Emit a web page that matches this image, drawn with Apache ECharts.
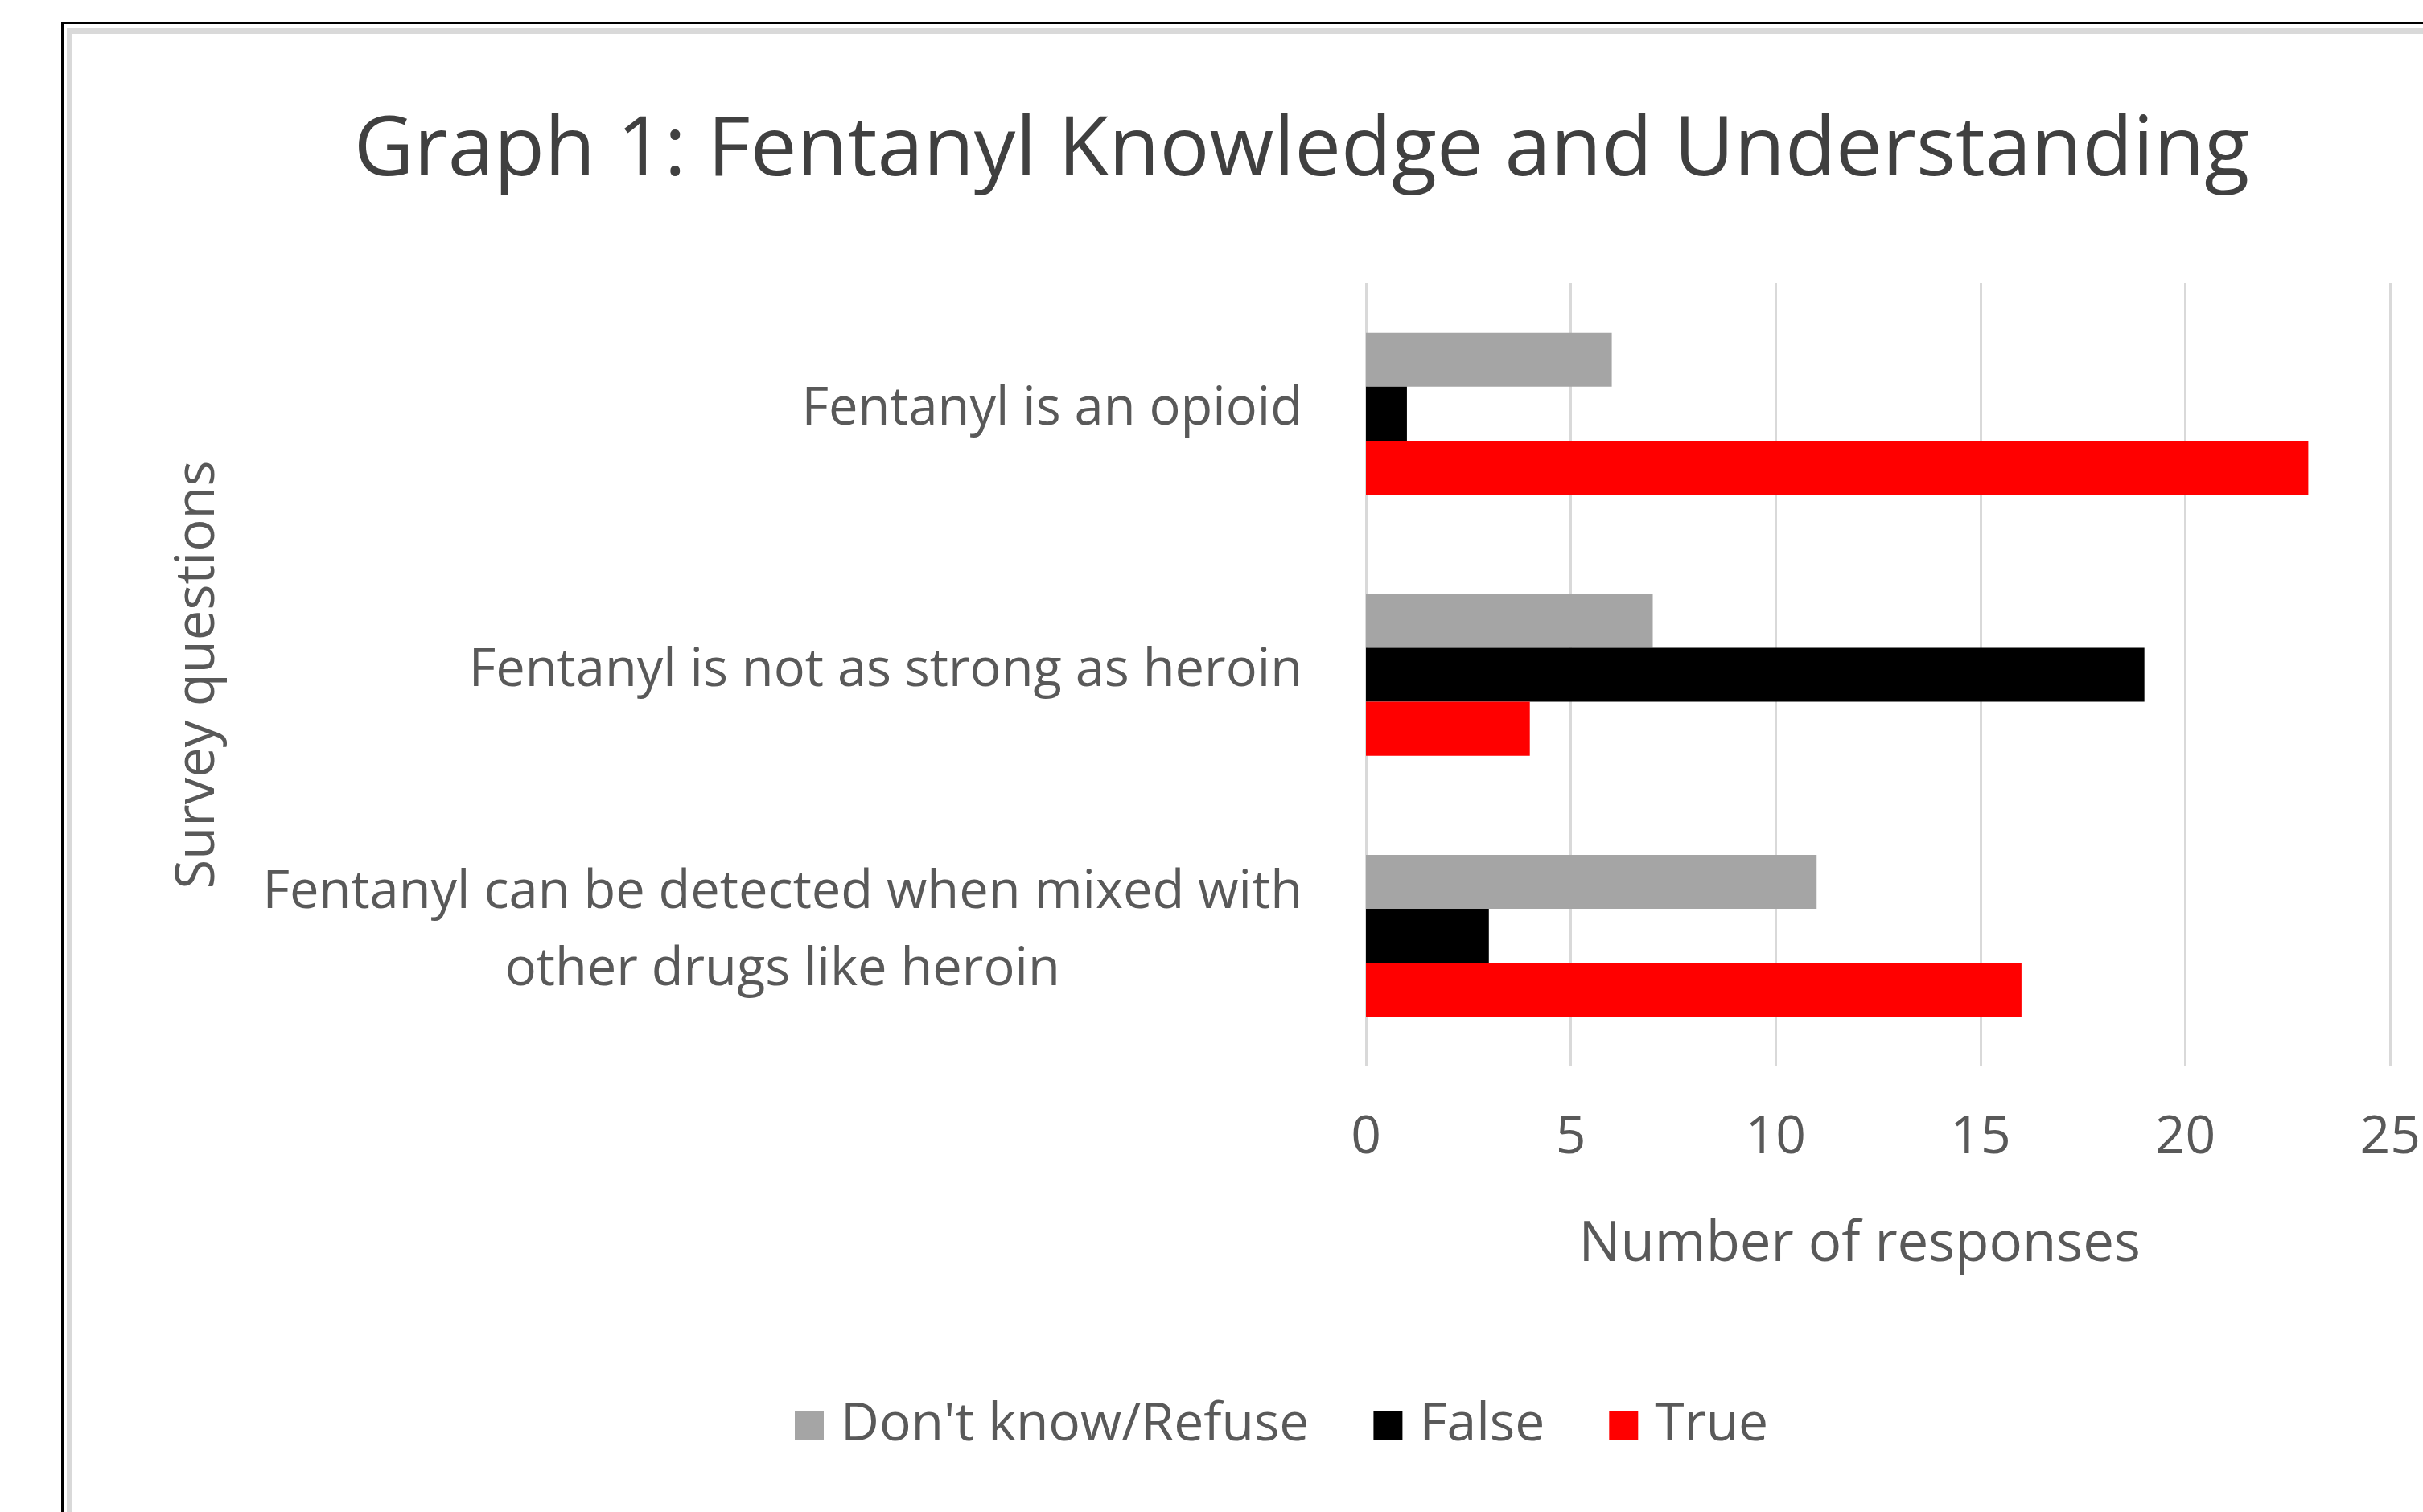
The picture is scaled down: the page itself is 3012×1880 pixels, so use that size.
<!DOCTYPE html>
<html>
<head>
<meta charset="utf-8">
<script src="https://cdn.jsdelivr.net/npm/echarts@6/dist/echarts.min.js"></script>
<style>
  html, body { margin: 0; padding: 0; background: #fff; }
  #chart { width: 3012px; height: 1880px; }
</style>
</head>
<body>
<div id="chart"></div>
<script>
  // Données du graphique
  const questions = [
    'Fentanyl is an opioid',
    'Fentanyl is not as strong as heroin',
    'Fentanyl can be detected when mixed with\nother drugs like heroin'
  ];
  const seriesNames = ["Don't know/Refuse", 'False', 'True'];
  const dontKnow = [6, 7, 11];
  const falseVals = [1, 19, 3];
  const trueVals = [23, 4, 16];
  const xTicks = [0, 5, 10, 15, 20, 25];

  const chart = echarts.init(document.getElementById('chart'));
  const fonte = '"Open Sans", "Noto Sans", sans-serif';
  const cinza = '#595959';

  const barra = (nome, valores, cor) => ({
    name: nome,
    type: 'bar',
    data: valores,
    barGap: '0%',
    barCategoryGap: '38%',
    itemStyle: { color: cor }
  });

  chart.setOption({
    backgroundColor: '#ffffff',
    animation: false,
    title: {
      text: 'Graph 1: Fentanyl Knowledge and Understanding',
      left: 1613,
      top: 132,
      textAlign: 'center',
      textStyle: { fontFamily: fonte, fontSize: 103, fontWeight: 'normal', color: '#404040' }
    },
    legend: {
      data: seriesNames,
      left: 983,
      top: 1734,
      itemWidth: 36,
      itemHeight: 36,
      itemGap: 80,
      icon: 'rect',
      textStyle: { fontFamily: fonte, fontSize: 66, color: cinza, padding: [0, 0, 0, 16] }
    },
    grid: { left: 1698, right: 34, top: 352, bottom: 554, containLabel: false },
    xAxis: {
      type: 'value',
      min: xTicks[0],
      max: xTicks[xTicks.length - 1],
      interval: 5,
      name: 'Number of responses',
      nameLocation: 'middle',
      nameGap: 188,
      nameTextStyle: { fontFamily: fonte, fontSize: 69, color: cinza, padding: [0, 46, 0, 0] },
      axisLine: { show: false },
      axisTick: { show: false },
      axisLabel: { fontFamily: fonte, fontSize: 66, color: cinza, margin: 56 },
      splitLine: { lineStyle: { color: '#d9d9d9', width: 3 } }
    },
    yAxis: {
      type: 'category',
      data: questions,
      inverse: true,
      name: 'Survey questions',
      nameLocation: 'middle',
      nameGap: 1418,
      nameTextStyle: { fontFamily: fonte, fontSize: 67, color: cinza },
      axisLine: { show: false },
      axisTick: { show: false },
      axisLabel: {
        margin: 79,
        align: 'right',
        padding: [0, 0, 10, 0],
        formatter: v => v.split('\n').map(l => '{c|' + l + '}').join('\n'),
        rich: {
          c: { fontFamily: fonte, fontSize: 65, color: cinza, align: 'center', lineHeight: 96 }
        }
      }
    },
    series: [
      barra(seriesNames[0], dontKnow, '#a5a5a5'),
      barra(seriesNames[1], falseVals, '#000000'),
      barra(seriesNames[2], trueVals, '#ff0000')
    ],
    graphic: [
      { type: 'rect', shape: { x: 76, y: 27, width: 2940, height: 3 }, style: { fill: '#000000' } },
      { type: 'rect', shape: { x: 76, y: 27, width: 3, height: 1860 }, style: { fill: '#000000' } },
      { type: 'rect', shape: { x: 83, y: 35, width: 2935, height: 7 }, style: { fill: '#d9d9d9' } },
      { type: 'rect', shape: { x: 83, y: 35, width: 6, height: 1850 }, style: { fill: '#d9d9d9' } }
    ]
  });
</script>
</body>
</html>
